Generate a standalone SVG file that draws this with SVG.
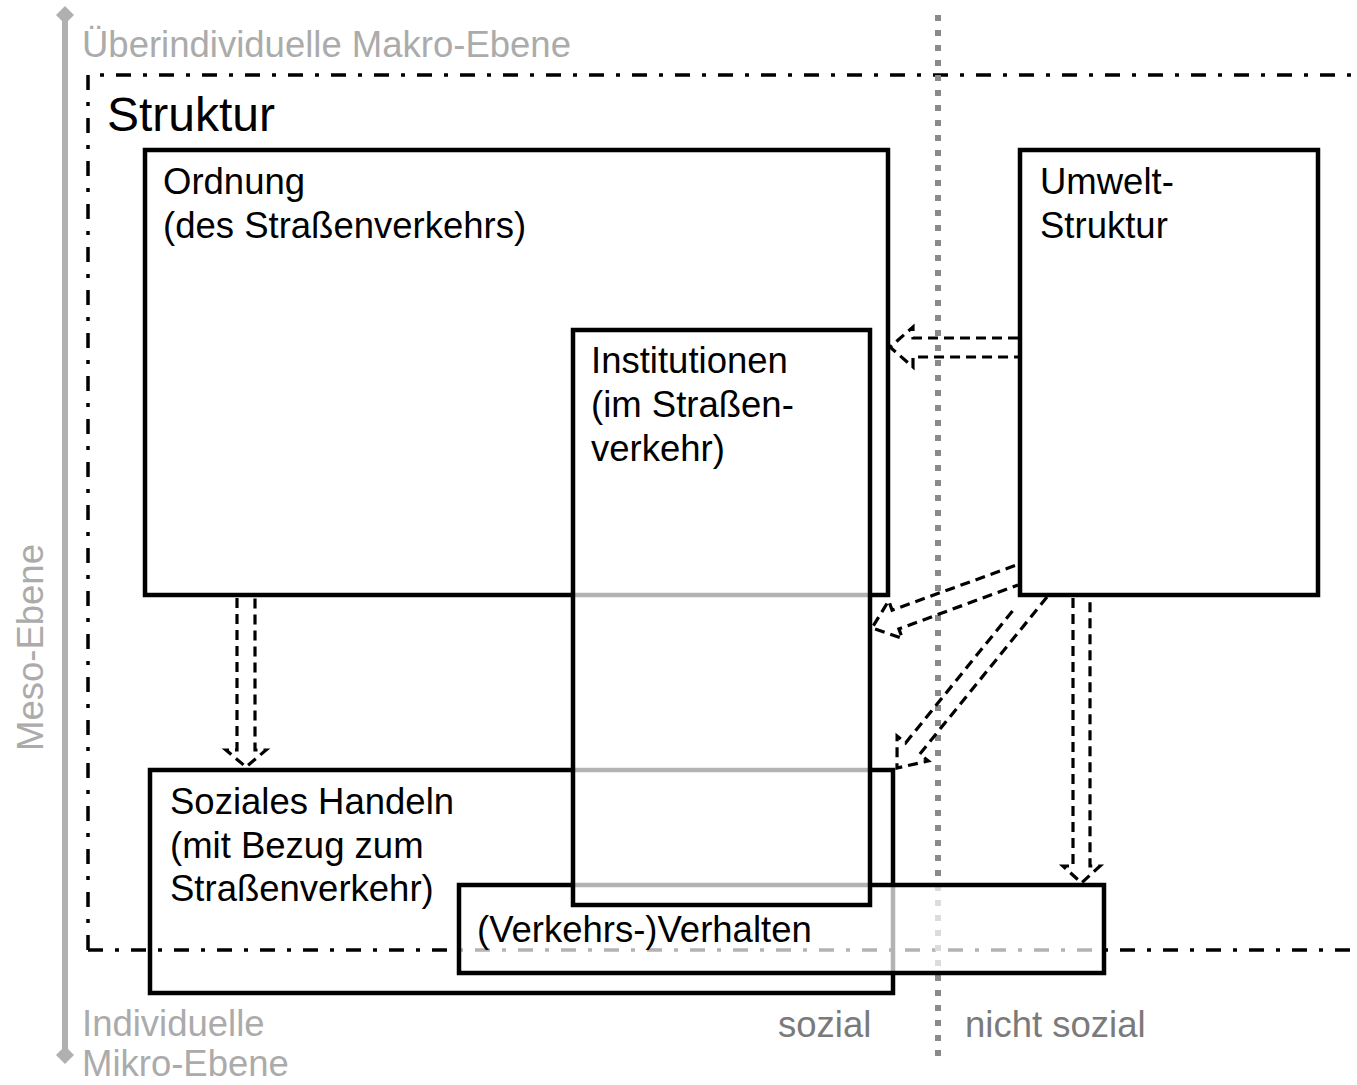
<svg xmlns="http://www.w3.org/2000/svg" width="1357" height="1085" viewBox="0 0 1357 1085">
  <style>
    .box { fill: none; stroke: #000; stroke-width: 4.5; }
    .veil { fill: #fff; fill-opacity: 0.7; stroke: #000; stroke-width: 4.5; }
    .t { font-family: "Liberation Sans", Arial, sans-serif; font-size: 36.5px; fill: #000; }
    .g { font-family: "Liberation Sans", Arial, sans-serif; font-size: 36.5px; fill: #ababab; }
    .g2 { font-family: "Liberation Sans", Arial, sans-serif; font-size: 36.5px; fill: #7a7a7a; }
    .arrow { fill: none; stroke: #000; stroke-width: 3.2; stroke-dasharray: 10 6; stroke-linejoin: miter; }
  </style>
  <rect width="1357" height="1085" fill="#fff"/>

  <g id="background">
    <line x1="65" y1="16" x2="65" y2="1053" stroke="#b0b0b0" stroke-width="6"/>
    <polygon points="65,6 74,15 65,24 56,15" fill="#b0b0b0"/>
    <polygon points="65,1046 74,1055 65,1064 56,1055" fill="#b0b0b0"/>
    <path d="M88,950 L88,75 L1380,75 M88,950 L1380,950" fill="none" stroke="#000" stroke-width="3.5" stroke-dasharray="15 12 4 12"/>
    <line x1="938" y1="15" x2="938" y2="1056" stroke="#8a8a8a" stroke-width="6" stroke-dasharray="6 9"/>
    <text class="g" x="82" y="57">Überindividuelle Makro-Ebene</text>
    <text class="t" x="107" y="131" style="font-size:48px">Struktur</text>
    <text class="g" transform="translate(43,751) rotate(-90)">Meso-Ebene</text>
    <text class="g" x="82" y="1036">Individuelle</text>
    <text class="g" x="82" y="1076">Mikro-Ebene</text>
    <text class="g2" x="778" y="1037">sozial</text>
    <text class="g2" x="965" y="1037">nicht sozial</text>
  </g>

  <g id="ordnung">
    <rect class="box" x="145" y="150" width="743" height="445"/>
    <text class="t" x="163" y="194">Ordnung</text>
    <text class="t" x="163" y="238">(des Straßenverkehrs)</text>
  </g>

  <g id="umwelt">
    <rect class="box" x="1020" y="150" width="298" height="445"/>
    <text class="t" x="1040" y="194">Umwelt-</text>
    <text class="t" x="1040" y="238">Struktur</text>
  </g>

  <g id="soziales-handeln">
    <rect class="box" x="150" y="770" width="743" height="223"/>
    <text class="t" x="170" y="814">Soziales Handeln</text>
    <text class="t" x="170" y="858">(mit Bezug zum</text>
    <text class="t" x="170" y="901">Straßenverkehr)</text>
  </g>

  <g id="verhalten">
    <rect class="veil" x="459" y="885" width="645" height="88"/>
    <text class="t" x="477" y="942">(Verkehrs-)Verhalten</text>
  </g>

  <g id="institutionen">
    <rect class="veil" x="573" y="330" width="297" height="575"/>
    <text class="t" x="591" y="373">Institutionen</text>
    <text class="t" x="591" y="417">(im Straßen-</text>
    <text class="t" x="591" y="461">verkehr)</text>
  </g>

  <g id="connectors">
    <path class="arrow" d="M1018,338 L913,338 L913,327 L890,347 L913,367 L913,357 L1018,357"/>
    <path class="arrow" d="M1015,565.6 L892.1,610.1 L888.7,600.7 L872,628 L902.3,638.3 L898.9,628.9 L1018,585"/>
    <path class="arrow" d="M1047,597 L919.7,754.2 L928.3,761 L897,768 L897.1,736 L905.6,742.9 L1015,608"/>
    <path class="arrow" d="M237,598 L237,750 L226,750 L246,767 L266,750 L255,750 L255,598"/>
    <path class="arrow" d="M1073,598 L1073,866 L1063,866 L1081.5,883 L1100,866 L1090,866 L1090,598"/>
  </g>
</svg>
